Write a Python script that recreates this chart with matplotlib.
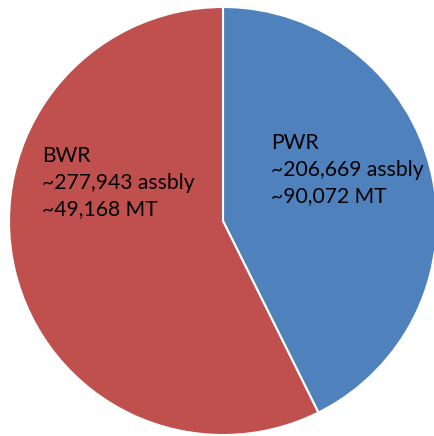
import matplotlib
matplotlib.use("Agg")
import matplotlib.pyplot as plt

# Spent fuel inventory by reactor type
reactor_types = ["PWR", "BWR"]
assemblies = [206669, 277943]
metric_tons = [90072, 49168]
colors = ["#4F81BD", "#C0504D"]

W, H = 435, 436
fig = plt.figure(figsize=(W / 100, H / 100), dpi=100)
fig.patch.set_facecolor("white")

# square axes that hold the unit-radius pie
cx, cy, r = 223, 221, 214  # pixels, from the top-left
ax = fig.add_axes([(cx - r) / W, (H - cy - r) / H, 2 * r / W, 2 * r / H])

ax.pie(assemblies, colors=colors, startangle=90, counterclock=False,
       radius=1.0, wedgeprops=dict(edgecolor="white", linewidth=1.5))
ax.set_xlim(-1, 1)
ax.set_ylim(-1, 1)
ax.set_aspect("equal")
ax.axis("off")

labels = [f"{t}\n~{a:,} assbly\n~{m:,} MT"
          for t, a, m in zip(reactor_types, assemblies, metric_tons)]
# label anchors (left edge, top of first line) in pixels
anchors = [(271, 133), (42, 146)]
for text, (x, y) in zip(labels, anchors):
    fig.text(x / W, 1 - y / H, text, ha="left", va="top",
             fontsize=15.2, family="Lato", color="black", linespacing=1.42)

fig.savefig("out.png", dpi=100)
